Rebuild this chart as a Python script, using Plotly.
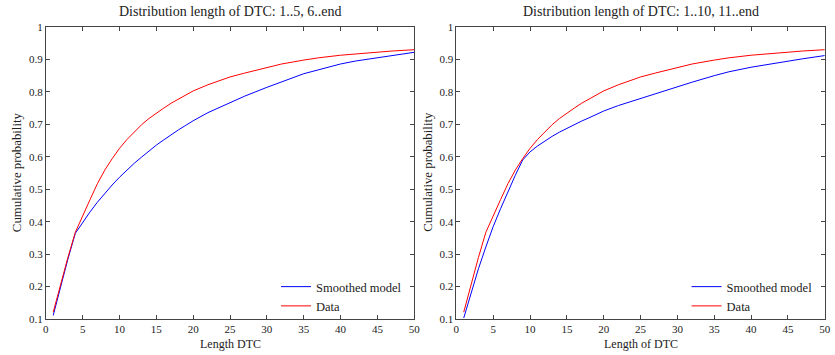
import plotly.graph_objects as go

x_vals = [1, 2, 3, 4, 5, 6, 7, 8, 9, 10, 11, 12, 13, 14, 15, 16, 17, 18, 19, 20,
          22, 25, 27, 30, 32, 35, 37, 40, 42, 45, 47, 50]

model_1_5 = [0.111, 0.200, 0.285, 0.364, 0.398, 0.430, 0.460, 0.488, 0.513, 0.537,
             0.560, 0.580, 0.599, 0.618, 0.636, 0.652, 0.668, 0.683, 0.697, 0.711,
             0.736, 0.768, 0.787, 0.814, 0.830, 0.856, 0.868, 0.886, 0.895, 0.906,
             0.913, 0.922]

model_1_10 = [0.103, 0.180, 0.255, 0.322, 0.385, 0.440, 0.494, 0.543, 0.590, 0.615,
              0.633, 0.649, 0.663, 0.676, 0.688, 0.699, 0.710, 0.720, 0.731, 0.741,
              0.758, 0.780, 0.794, 0.817, 0.830, 0.850, 0.862, 0.876, 0.884, 0.895,
              0.902, 0.912]

data_vals = [0.121, 0.210, 0.290, 0.367, 0.420, 0.468, 0.517, 0.559, 0.594, 0.626,
             0.653, 0.677, 0.699, 0.718, 0.735, 0.750, 0.765, 0.777, 0.790, 0.803,
             0.822, 0.846, 0.858, 0.876, 0.886, 0.898, 0.905, 0.913, 0.917, 0.922,
             0.926, 0.930]

titles = ["Distribution length of DTC: 1..5, 6..end",
          "Distribution length of DTC: 1..10, 11..end"]
xlabels = ["Length DTC", "Length of DTC"]
ylabel = "Cumulative probability"
series_names = ["Smoothed model", "Data"]
x_ticks = [0, 5, 10, 15, 20, 25, 30, 35, 40, 45, 50]
y_ticks = [0.1, 0.2, 0.3, 0.4, 0.5, 0.6, 0.7, 0.8, 0.9, 1.0]
y_ticklabels = ["0.1", "0.2", "0.3", "0.4", "0.5", "0.6", "0.7", "0.8", "0.9", "1"]

W, H = 835, 355
MT, MB = 27, 36
PH = H - MT - MB
FONT = "Liberation Serif"
dom1 = [43.3 / W, 415.7 / W]
dom2 = [458.3 / W, 830.7 / W]


def py(ypix):
    # convert a pixel row to paper coordinate (plot area)
    return (H - MB - ypix) / PH


fig = go.Figure()
for i, (model, dom) in enumerate([(model_1_5, dom1), (model_1_10, dom2)]):
    xa = "x" if i == 0 else "x2"
    ya = "y" if i == 0 else "y2"
    lg = "legend" if i == 0 else "legend2"
    fig.add_trace(go.Scatter(x=x_vals, y=model, mode="lines", name=series_names[0],
                             line=dict(color="#0000ff", width=1), xaxis=xa, yaxis=ya,
                             legend=lg))
    fig.add_trace(go.Scatter(x=x_vals, y=data_vals, mode="lines", name=series_names[1],
                             line=dict(color="#ff0000", width=1), xaxis=xa, yaxis=ya,
                             legend=lg))

axis_common = dict(showline=True, linecolor="#444", linewidth=1, mirror="allticks",
                   ticks="inside", ticklen=4, tickcolor="#444", showgrid=False,
                   zeroline=False, tickfont=dict(family=FONT, size=11, color="#222"))

legend_common = dict(xanchor="left", yanchor="top", bgcolor="rgba(0,0,0,0)",
                     font=dict(family=FONT, size=12.5, color="#222"), tracegroupgap=0)

fig.update_layout(
    width=W, height=H,
    margin=dict(l=0, r=0, t=MT, b=MB),
    paper_bgcolor="white", plot_bgcolor="white",
    font=dict(family=FONT, size=11, color="#222"),
    xaxis=dict(domain=dom1, range=[0, 50], tickvals=x_ticks, anchor="y", **axis_common),
    yaxis=dict(domain=[0, 1], range=[0.1, 1], tickvals=y_ticks, ticktext=y_ticklabels,
               anchor="x", **axis_common),
    xaxis2=dict(domain=dom2, range=[0, 50], tickvals=x_ticks, anchor="y2", **axis_common),
    yaxis2=dict(domain=[0, 1], range=[0.1, 1], tickvals=y_ticks, ticktext=y_ticklabels,
                anchor="x2", **axis_common),
    legend=dict(x=276 / W, y=py(272), **legend_common),
    legend2=dict(x=691 / W, y=py(272), **legend_common),
    showlegend=True,
)

annotations = []
for i, dom in enumerate([dom1, dom2]):
    cx = (dom[0] + dom[1]) / 2
    annotations.append(dict(text=titles[i], x=cx, y=py(12), xref="paper", yref="paper",
                            xanchor="center", yanchor="middle", showarrow=False,
                            font=dict(family=FONT, size=14, color="#222")))
    annotations.append(dict(text=xlabels[i], x=cx, y=py(344), xref="paper", yref="paper",
                            xanchor="center", yanchor="middle", showarrow=False,
                            font=dict(family=FONT, size=12, color="#222")))
    annotations.append(dict(text=ylabel, x=(dom[0] * W - 29) / W, y=py(172),
                            xref="paper", yref="paper", xanchor="center", yanchor="middle",
                            textangle=-90, showarrow=False,
                            font=dict(family=FONT, size=12.8, color="#222")))
fig.update_layout(annotations=annotations)

fig.write_html("out.html")
